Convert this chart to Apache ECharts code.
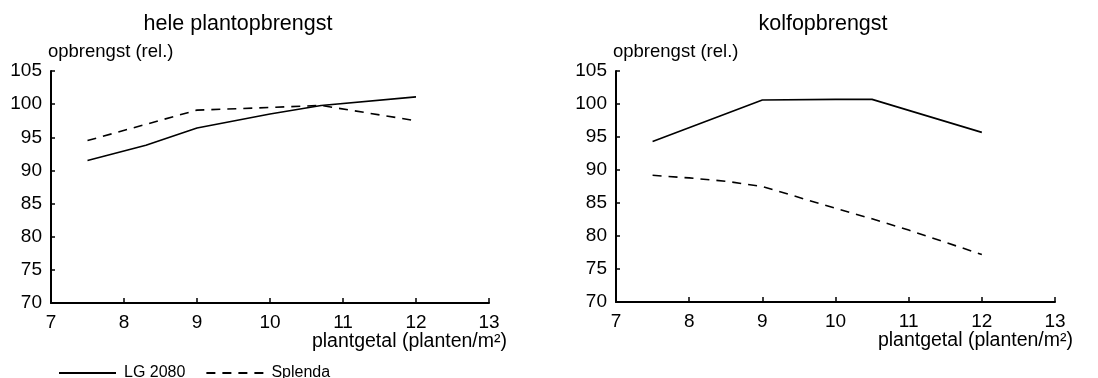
<!DOCTYPE html>
<html>
<head>
<meta charset="utf-8">
<script src="https://cdn.jsdelivr.net/npm/echarts@6/dist/echarts.min.js"></script>
<style>
  html, body { margin: 0; padding: 0; background: #fff; }
  #main { width: 1098px; height: 378px; }
</style>
</head>
<body>
<div id="main"></div>
<script>
// data
var lgWhole = [[7.5, 91.5], [8.3, 93.8], [9, 96.4], [10, 98.5], [10.7, 99.8], [12, 101.1]];
var splWhole = [[7.5, 94.5], [9, 99.1], [10, 99.5], [10.7, 99.8], [12, 97.5]];
var lgCob = [[7.5, 94.3], [9, 100.6], [10, 100.7], [10.5, 100.7], [12, 95.7]];
var splCob = [[7.5, 89.2], [8, 88.8], [8.5, 88.3], [9, 87.5], [10, 84.2], [10.5, 82.6], [11, 80.9], [12, 77.2]];
var titles = ['hele plantopbrengst', 'kolfopbrengst'];

var font = 'Liberation Sans, Arial, sans-serif';
var chart = echarts.init(document.getElementById('main'));

function xAxis(idx) {
  return {
    type: 'value', gridIndex: idx, min: 7, max: 13, interval: 1,
    name: 'plantgetal (planten/m²)', nameLocation: 'end', nameGap: 18,
    nameTextStyle: { color: '#000', fontSize: 19.5, fontFamily: font, align: 'right', verticalAlign: 'top', padding: [29, 0, 0, 0] },
    axisLine: { lineStyle: { color: '#000', width: 2 } },
    axisTick: { inside: true, length: 5, lineStyle: { color: '#000', width: 1.5 } },
    axisLabel: { color: '#000', fontSize: 19, fontFamily: font, margin: 10 },
    splitLine: { show: false }
  };
}
function yAxis(idx) {
  return {
    type: 'value', gridIndex: idx, min: 70, max: 105, interval: 5,
    name: 'opbrengst (rel.)', nameLocation: 'end', nameGap: 19,
    nameTextStyle: { color: '#000', fontSize: 18.5, fontFamily: font, align: 'left', verticalAlign: 'middle', padding: [0, 0, 0, -3] },
    axisLine: { show: true, lineStyle: { color: '#000', width: 2 } },
    axisTick: { show: true, inside: true, length: 4, lineStyle: { color: '#000', width: 1.5 } },
    axisLabel: { color: '#000', fontSize: 19, fontFamily: font, margin: 9 },
    splitLine: { show: false }
  };
}
function line(name, data, idx, dashed) {
  return {
    name: name, type: 'line', xAxisIndex: idx, yAxisIndex: idx,
    data: data, showSymbol: false, symbol: 'none', silent: true,
    lineStyle: { color: '#000', width: 1.6, type: dashed ? [9, 7] : 'solid' },
    itemStyle: { color: '#000' }
  };
}

chart.setOption({
  backgroundColor: '#fff',
  animation: false,
  title: [
    { text: titles[0], left: 233, top: 8, textAlign: 'center', textStyle: { fontSize: 21.5, fontWeight: 'normal', color: '#000', fontFamily: font } },
    { text: titles[1], left: 818, top: 8, textAlign: 'center', textStyle: { fontSize: 21.5, fontWeight: 'normal', color: '#000', fontFamily: font } }
  ],
  legend: {
    left: 53, top: 360, itemWidth: 57, itemHeight: 14, itemGap: 20,
    data: ['LG 2080', 'Splenda'],
    itemStyle: { opacity: 0 },
    textStyle: { color: '#000', fontSize: 16, fontFamily: font, padding: [0, 0, 0, 3] }
  },
  grid: [
    { left: 51, top: 71, width: 438, height: 232 },
    { left: 616, top: 71, width: 439, height: 231 }
  ],
  xAxis: [xAxis(0), xAxis(1)],
  yAxis: [yAxis(0), yAxis(1)],
  series: [
    line('LG 2080', lgWhole, 0, false),
    line('Splenda', splWhole, 0, true),
    line('LG 2080', lgCob, 1, false),
    line('Splenda', splCob, 1, true)
  ]
});
</script>
</body>
</html>
